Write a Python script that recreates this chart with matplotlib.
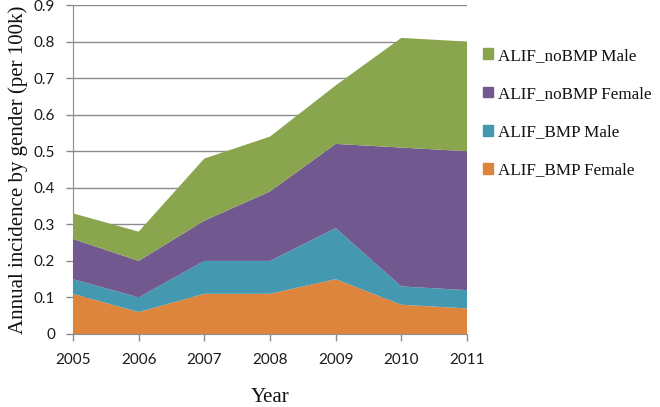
import matplotlib.pyplot as plt
from matplotlib.patches import Patch

# data (per 100k)
years = [2005, 2006, 2007, 2008, 2009, 2010, 2011]
bmp_female = [0.11, 0.06, 0.11, 0.11, 0.15, 0.08, 0.07]
bmp_male = [0.04, 0.04, 0.09, 0.09, 0.14, 0.05, 0.05]
nobmp_female = [0.11, 0.10, 0.11, 0.19, 0.23, 0.38, 0.38]
nobmp_male = [0.07, 0.08, 0.17, 0.15, 0.16, 0.30, 0.30]

labels = ['ALIF_BMP Female', 'ALIF_BMP Male', 'ALIF_noBMP Female', 'ALIF_noBMP Male']
colors = ['#DD853D', '#4499B0', '#71588F', '#89A54E']


def main():
    fig = plt.figure(figsize=(6.6, 4.07), dpi=100)
    ax = fig.add_axes([0.1106, 0.1794, 0.597, 0.8083])

    ax.stackplot(years, bmp_female, bmp_male, nobmp_female, nobmp_male,
                 colors=colors, labels=labels, linewidth=0, zorder=3)

    ax.set_xlim(2005, 2011)
    ax.set_ylim(0, 0.9)
    ax.set_xticks(years)
    ax.set_yticks([i / 10 for i in range(10)])
    ax.set_yticklabels(['0'] + ['%.1f' % (i / 10) for i in range(1, 10)])
    ax.grid(axis='y', color='#8c8c8c', linewidth=1, zorder=0)
    ax.set_axisbelow(True)

    for s in ('top', 'right'):
        ax.spines[s].set_visible(False)
    for s in ('left', 'bottom'):
        ax.spines[s].set_color('#8c8c8c')
    ax.tick_params(axis='both', colors='#8c8c8c', length=5, width=1, direction='out')
    for t in ax.get_xticklabels() + ax.get_yticklabels():
        t.set_color('#1a1a1a')
        t.set_fontfamily('Lato')
        t.set_fontsize(11)
    ax.tick_params(axis='x', pad=9)
    ax.tick_params(axis='y', pad=8)

    ax.set_xlabel('Year', family='Liberation Serif', fontsize=15, labelpad=15, color='#111111')
    ax.set_ylabel('Annual incidence by gender (per 100k)', family='Liberation Serif',
                  fontsize=15, labelpad=4, color='#111111')

    # legend in reversed order, like the stack
    handles = [Patch(color=c) for c in colors][::-1]
    fig.legend(handles, labels[::-1], loc='upper left', bbox_to_anchor=(0.713, 0.912),
               frameon=False, prop={'family': 'Liberation Serif', 'size': 12.3},
               labelcolor='#111111', borderpad=0.2,
               handlelength=0.6, handleheight=0.6, handletextpad=0.3, labelspacing=1.3)

    fig.savefig('out.png', dpi=100)


if __name__ == "__main__":
    main()
